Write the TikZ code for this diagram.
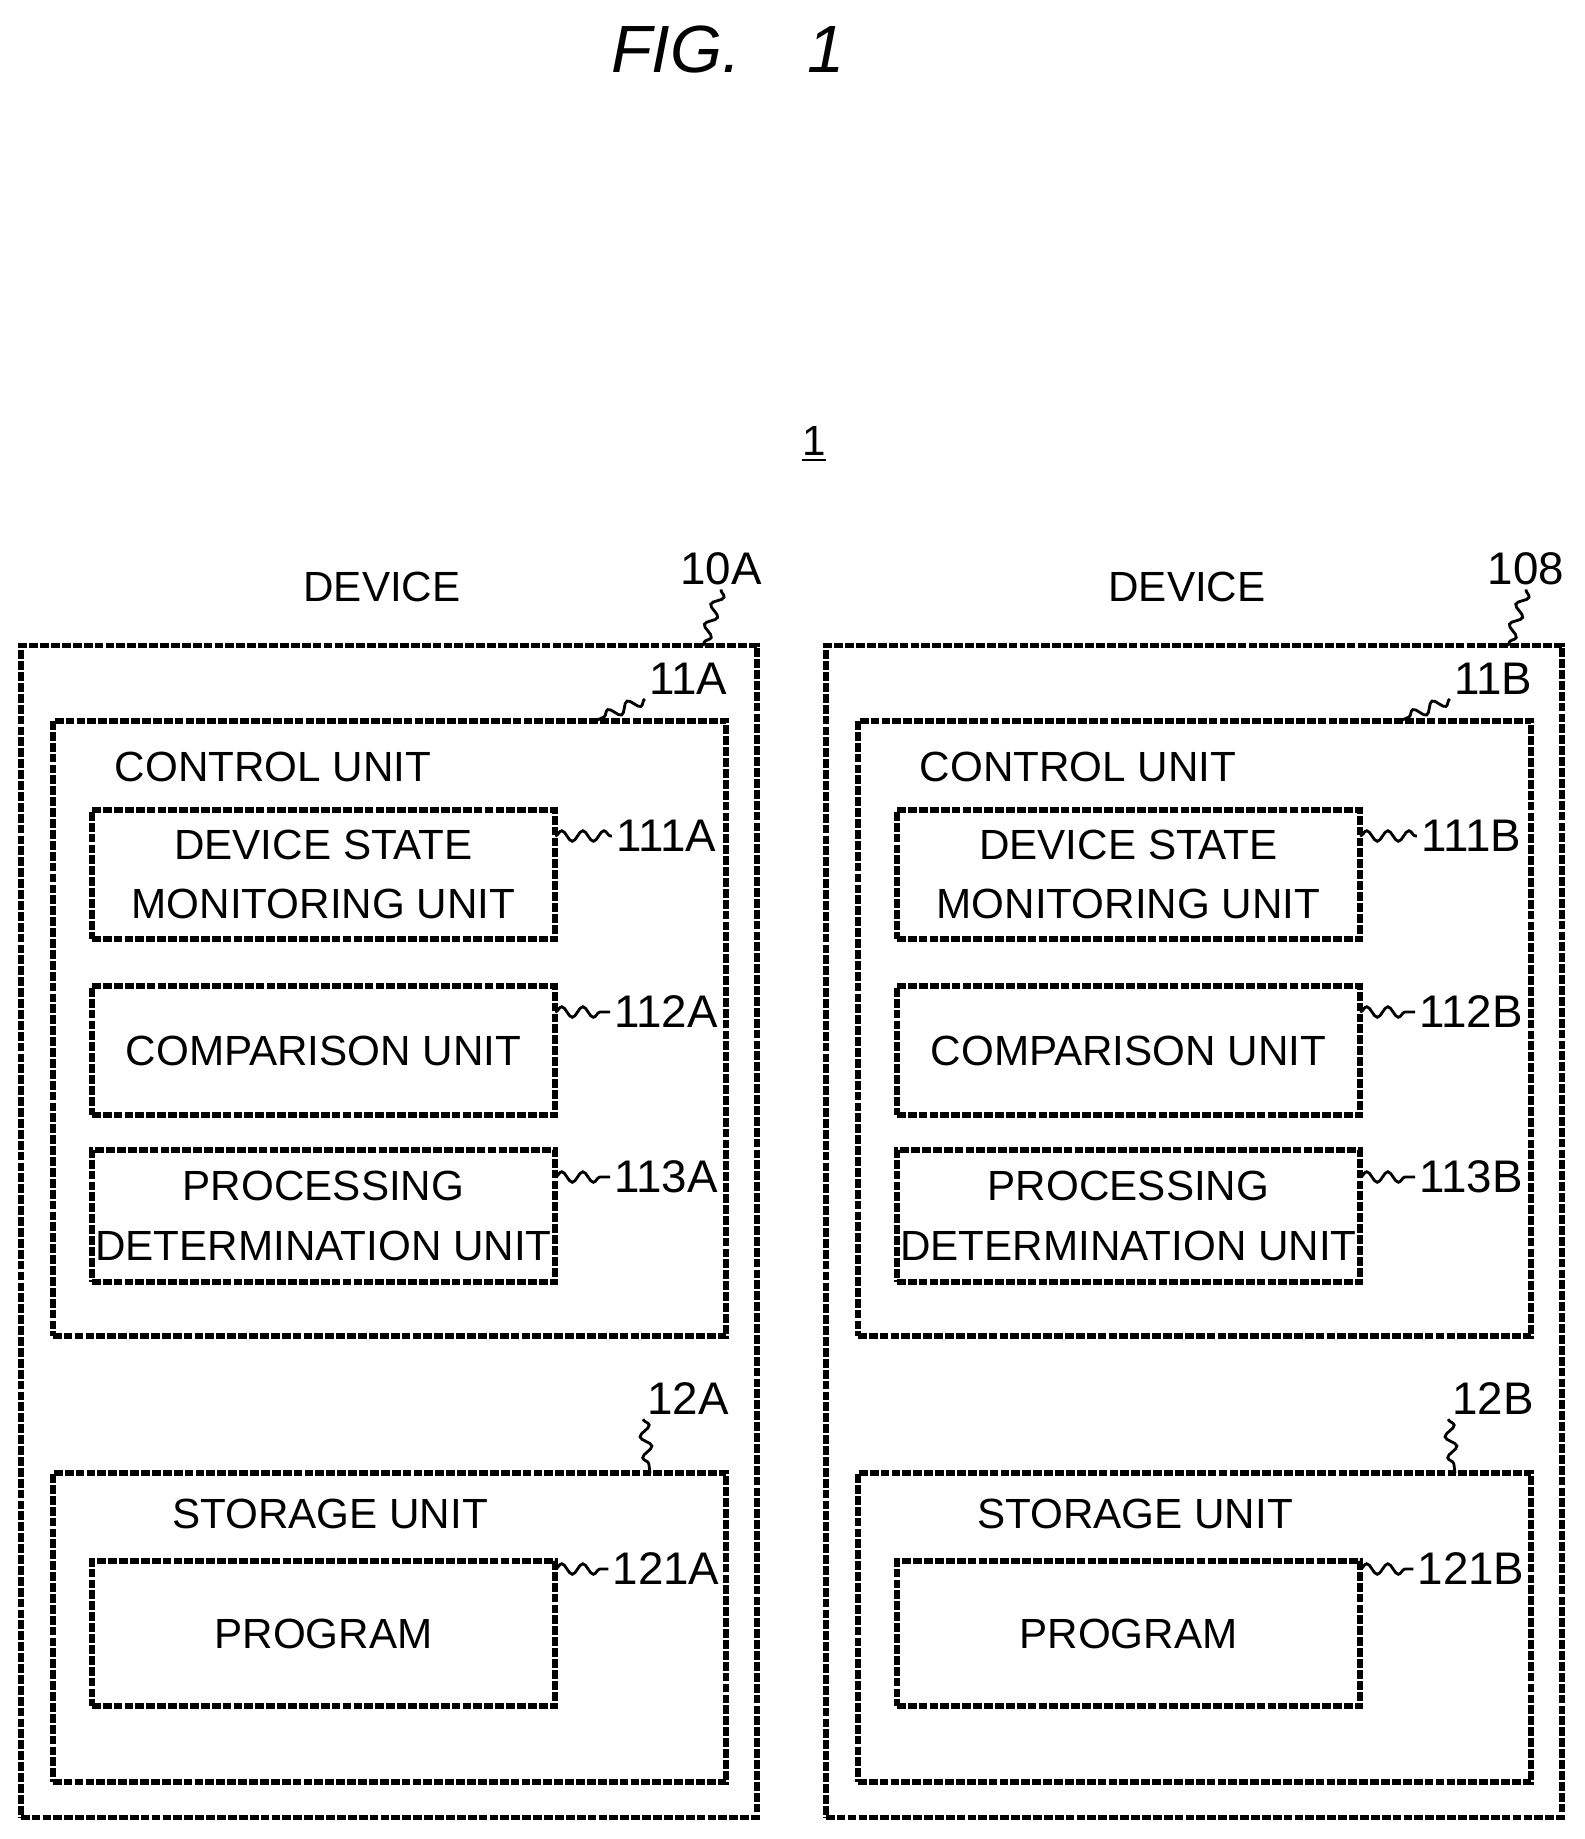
\documentclass[tikz,border=0pt]{standalone}
\usepackage{fontspec}
\setmainfont{Liberation Sans}
\usetikzlibrary{decorations.pathmorphing,positioning}
\tikzset{
  box/.style={draw, line width=1.6pt, dash pattern=on 2.5pt off 0.6pt,
              inner sep=0pt, outer sep=0pt},
  txt/.style={font=\fontsize{12}{17}\selectfont, align=center, inner sep=0pt},
  tag/.style={font=\fontsize{13}{15}\selectfont, inner sep=1pt},
  lead/.style={decorate, decoration={snake, amplitude=1.5pt, segment length=6pt}, line width=0.8pt}
}
\begin{document}
\begin{tikzpicture}[x=0.01cm,y=-0.01cm]
    \useasboundingbox (0,0) rectangle (1585,1839);
    \node[font=\itshape\fontsize{19}{24}\selectfont] (fig) at (728,49) {FIG.\quad 1};
    \node[txt] (sys) at (814,444) {\underline{1}};

    \foreach \s/\dx/\dn in {A/0/10A,B/805/108} {
      \begin{scope}[xshift=\dx*0.01cm]
        \node[box, minimum width=7.36cm, minimum height=11.71cm] (dev\s) at (389,1231.5) {};
        \node[txt] (devt\s) at (382,587) {DEVICE};
        \node[box, minimum width=6.73cm, minimum height=6.15cm] (ctl\s) at (389.5,1028.5) {};
        \node[txt, anchor=west] (ctlt\s) at (114,767) {CONTROL UNIT};
        \node[box, minimum width=4.63cm, minimum height=1.29cm, txt] (mon\s) at (323.5,874.5) {DEVICE STATE\\MONITORING UNIT};
        \node[box, minimum width=4.63cm, minimum height=1.29cm, txt] (cmp\s) at (323.5,1050.5) {COMPARISON UNIT};
        \node[box, minimum width=4.63cm, minimum height=1.32cm, txt] (prc\s) at (323.5,1216) {PROCESSING\\DETERMINATION UNIT};
        \node[box, minimum width=6.73cm, minimum height=3.09cm] (sto\s) at (389.5,1627.5) {};
        \node[txt] (stot\s) at (330,1514) {STORAGE UNIT};
        \node[box, minimum width=4.63cm, minimum height=1.45cm, txt] (prg\s) at (323.5,1633.5) {PROGRAM};

        % reference numerals
        \node[tag] (n10\s) at (721,569) {\dn};
        \node[tag] (n11\s) at (688,679) {11\s};
        \node[tag] (n12\s) at (688,1399) {12\s};
        \node[tag] (n111\s) at (666,836) {111\s};
        \node[tag] (n112\s) at (666,1012) {112\s};
        \node[tag] (n113\s) at (666,1177) {113\s};
        \node[tag] (n121\s) at (666,1569) {121\s};

        \coordinate (c10\s) at (703,646);
        \coordinate (c11\s) at (595,721);
        \coordinate (c12\s) at (650,1473);
        \draw[lead] (n10\s.south) -- (c10\s);
        \draw[lead] (n11\s.south west) -- (c11\s);
        \draw[lead] (n12\s.south west) -- (c12\s);
        \draw[lead] (mon\s.east |- n111\s) -- (n111\s.west);
        \draw[lead] (cmp\s.east |- n112\s) -- (n112\s.west);
        \draw[lead] (prc\s.east |- n113\s) -- (n113\s.west);
        \draw[lead] (prg\s.east |- n121\s) -- (n121\s.west);
      \end{scope}
    }
\end{tikzpicture}
\end{document}
